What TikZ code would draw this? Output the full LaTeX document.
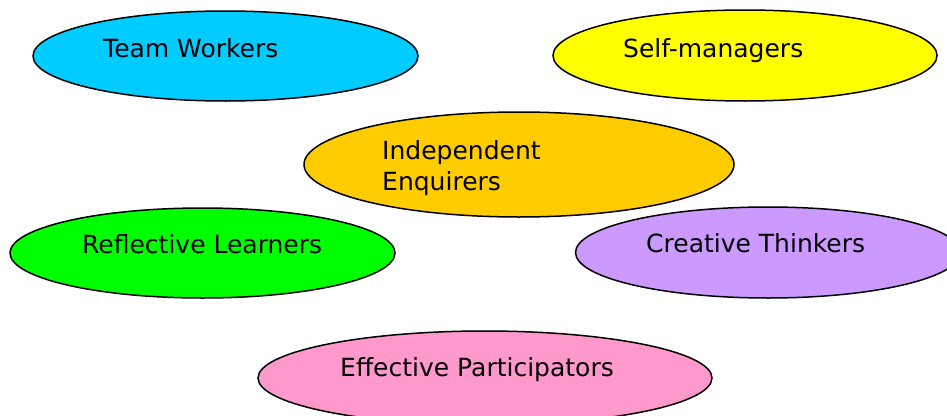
\documentclass[tikz,border=0pt]{standalone}
\usepackage{fontspec}
\setmainfont{DejaVu Sans}
\usetikzlibrary{shapes.geometric}
\usetikzlibrary{calc}
\definecolor{teamblue}{HTML}{00CCFF}
\definecolor{selfyellow}{HTML}{FFFF00}
\definecolor{enqorange}{HTML}{FFCC00}
\definecolor{reflgreen}{HTML}{00FF00}
\definecolor{creatlilac}{HTML}{CC99FF}
\definecolor{effpink}{HTML}{FF99CC}

\begin{document}
\begin{tikzpicture}[x=1pt, y=-1pt,
    skill/.style={ellipse, draw=black, line width=1.5pt, inner sep=0pt},
    skilltext/.style={anchor=base west, inner sep=0pt, align=left, font=\fontsize{25}{31}\selectfont}]
            \useasboundingbox (0,0) rectangle (947,415);
            \clip (0,0) rectangle (947,415);

            \node[skill, fill=teamblue, minimum width=385pt, minimum height=90pt] (team) at (225.5,56) {};
            \node[skill, fill=selfyellow, minimum width=384pt, minimum height=91pt] (self) at (745,55.5) {};
            \node[skill, fill=enqorange, minimum width=430pt, minimum height=105pt] (enq) at (519,164.5) {};
            \node[skill, fill=reflgreen, minimum width=385pt, minimum height=90pt] (refl) at (202.5,253) {};
            \node[skill, fill=creatlilac, minimum width=385pt, minimum height=91pt] (creat) at (768,252.5) {};
            \node[skill, fill=effpink, minimum width=454pt, minimum height=94pt] (eff) at (485,378) {};

            \node[skilltext] (team_text) at ($(team)+(-122.5,1)$) {Team Workers};
            \node[skilltext] (self_text) at ($(self)+(-122,1.5)$) {Self-managers};
            \node[skilltext] (enq_text) at ($(enq)+(-137,25.5)$) {Independent\\Enquirers};
            \node[skilltext] (refl_text) at ($(refl)+(-120.5,0)$) {Reflective Learners};
            \node[skilltext] (creat_text) at ($(creat)+(-122,0)$) {Creative Thinkers};
            \node[skilltext] (eff_text) at ($(eff)+(-145,-2)$) {Effective Participators};
        \end{tikzpicture}
\end{document}
